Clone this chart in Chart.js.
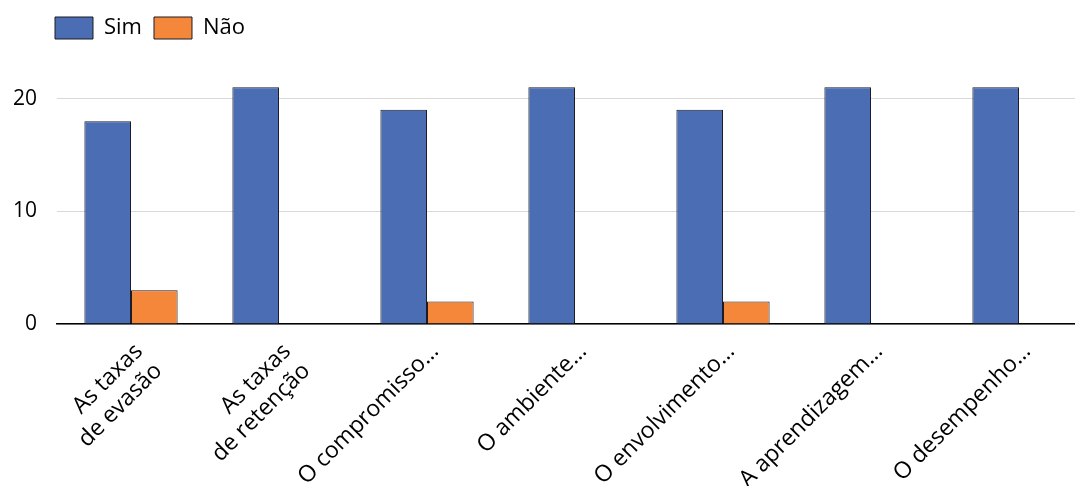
<!DOCTYPE html>
<html>
<head>
<meta charset="utf-8">
<script src="https://cdn.jsdelivr.net/npm/chart.js@4"></script>
<style>
  html, body { margin: 0; padding: 0; background: #ffffff; overflow: hidden; }
  #wrap { width: 1075px; height: 486px; overflow: hidden; }
</style>
</head>
<body>
<div id="wrap"><canvas id="chart" width="1110" height="486"></canvas></div>
<script>
const categories = [
  ["As taxas", "de evasão"],
  ["As taxas", "de retenção"],
  "O compromisso…",
  "O ambiente…",
  "O envolvimento…",
  "A aprendizagem…",
  "O desempenho…"
];
const simValues = [18, 21, 19, 21, 19, 21, 21];
const naoValues = [3, 0, 2, 0, 2, 0, 0];
const yTicks = [0, 10, 20];

const FONT = "'Open Sans', 'Liberation Sans', sans-serif";
const LABEL_SHIFT = 8;    // sideways nudge for the slanted category labels
const LEGEND_INDENT = 43; // legend starts in line with the plot area

const layoutTweaks = {
  id: 'layoutTweaks',
  afterLayout(chart) {
    chart.legend.left += LEGEND_INDENT;
    chart.legend.right += LEGEND_INDENT;
  },
  beforeDraw(chart) {
    const items = chart.scales.x.getLabelItems();
    if (!items._nudged) {
      items.forEach(it => { it.options.translation[0] += LABEL_SHIFT; });
      items._nudged = true;
    }
  }
};

new Chart(document.getElementById('chart'), {
  type: 'bar',
  data: {
    labels: categories,
    datasets: [
      { label: 'Sim', data: simValues, backgroundColor: '#4a6db4', borderColor: '#1c1c24', borderWidth: 1 },
      { label: 'Não', data: naoValues, backgroundColor: '#f5873a', borderColor: '#1c1c24', borderWidth: 1 }
    ]
  },
  plugins: [layoutTweaks],
  options: {
    responsive: false,
    animation: false,
    layout: { padding: { left: 0, right: 17, top: 5, bottom: 0 } },
    datasets: { bar: { categoryPercentage: 0.63, barPercentage: 1.0 } },
    plugins: {
      legend: {
        position: 'top',
        align: 'start',
        labels: {
          boxWidth: 38, boxHeight: 22, padding: 12,
          color: '#000', font: { family: FONT, size: 22 }
        }
      },
      tooltip: { enabled: false }
    },
    scales: {
      x: {
        grid: { display: false },
        border: { color: '#000', width: 1.5 },
        ticks: {
          color: '#000', font: { family: FONT, size: 23 },
          minRotation: 45, maxRotation: 45, autoSkip: false, padding: 6
        },
        afterFit: s => { s.height = 162; }
      },
      y: {
        min: 0, max: 24.4,
        afterBuildTicks: s => { s.ticks = yTicks.map(v => ({ value: v })); },
        grid: { color: '#d9d9d9', lineWidth: 1, drawTicks: false },
        border: { display: false },
        ticks: { color: '#000', font: { family: FONT, size: 21 }, padding: 20 },
        afterFit: s => { s.width = 57; }
      }
    }
  }
});
</script>
</body>
</html>
